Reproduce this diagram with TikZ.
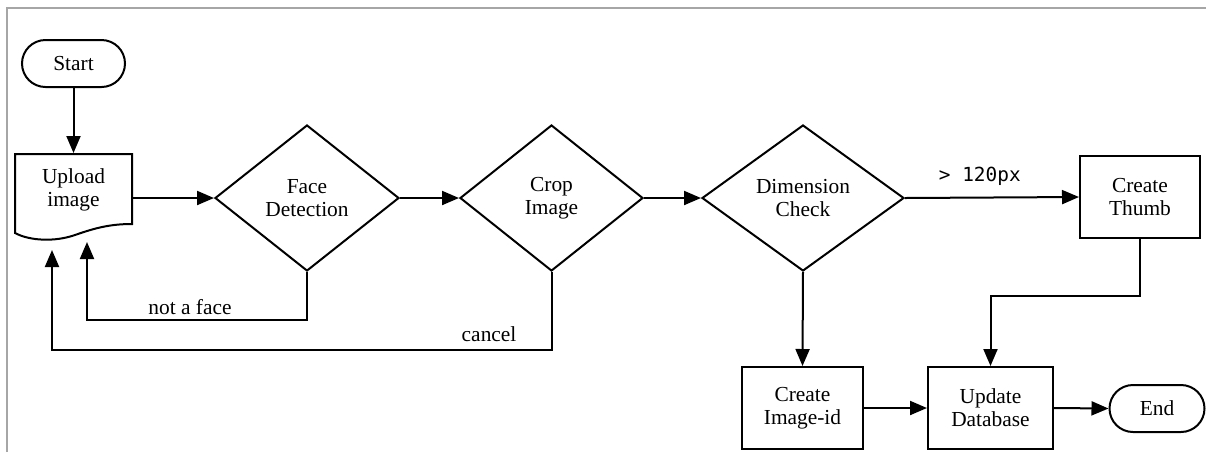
\documentclass[tikz,border=0pt]{standalone}
\usepackage{fontspec}
\setmainfont{Liberation Serif}
\newfontfamily\codefont{DejaVu Sans Mono}
\usetikzlibrary{shapes.geometric,arrows.meta,calc}
\definecolor{framegray}{RGB}{166,166,166}
\begin{document}
\begin{tikzpicture}[x=0.5pt,y=-0.5pt,
  line width=1pt,
  every node/.style={font=\fontsize{10.7}{11.5}\selectfont, align=center, inner sep=0pt},
  arr/.style={-{Triangle[length=8.5pt,width=7pt]}},
  term/.style={draw, rounded corners=11.75pt, minimum height=23.5pt},
  proc/.style={draw, minimum height=41pt},
  dec/.style={draw, diamond, minimum height=73pt},
  codelbl/.style={font=\codefont\fontsize{9.7}{11}\selectfont}]
\useasboundingbox (0,0) rectangle (1206,452);
\draw[framegray, line width=1pt] (7,452) -- (7,8) -- (1206,8);

% nodes
\node[term, minimum width=51.5pt] (start) at (73.5,63.5) {Start};
\node[minimum width=58.5pt, minimum height=43pt] (upload) at (73.5,197) {};
\draw (15,154) -- (132,154) -- (132,224)
  .. controls (110,224) and (95,228) .. (75,235)
  .. controls (55,242) and (30,241) .. (15,233) -- cycle;
\node (uploadtxt) at (73.5,190) {Upload\\image};
\node[dec, minimum width=92pt] (face) at (307,198) {Face\\Detection};
\node[dec, minimum width=91.5pt] (crop) at (551.5,198) {Crop\\Image};
\node[dec, minimum width=101pt] (dim) at (803,198) {Dimension\\Check};
\node[proc, minimum width=60pt] (thumb) at (1140,197) {Create\\Thumb};
\node[proc, minimum width=60.5pt] (imgid) at (802.5,408) {Create\\Image-id};
\node[proc, minimum width=62.5pt] (update) at (990.5,408) {Update\\Database};
\node[term, minimum width=47.5pt] (end) at (1157,408.5) {End};
\coordinate (in1) at (87,242);
\coordinate (in2) at (52,250);

% connectors
\draw[arr] (start.south) -- (start.south |- upload.north);
\draw[arr] (upload.east |- face.west) -- (face.west);
\draw[arr] (face.east) -- (crop.west);
\draw[arr] (crop.east) -- (dim.west);
\draw[arr] (dim.east) -- node[codelbl, pos=0.43, yshift=10.5pt] (lab120) {> 120px} (thumb.west);
\draw[arr] (dim.south) -- (imgid.north);
\draw[arr] (thumb.south) -- ++(0,57) -| (update.north);
\draw[arr] (imgid.east) -- (update.west);
\draw[arr] (update.east) -- (end.west);
\draw[arr] (face.south) -- ++(0,48) -| node[pos=0.266, yshift=6.5pt] (labface) {not a face} (in1);
\draw[arr] (crop.south) -- ++(0,78) -| node[pos=0.0625, yshift=8pt] (labcancel) {cancel} (in2);
\end{tikzpicture}
\end{document}
